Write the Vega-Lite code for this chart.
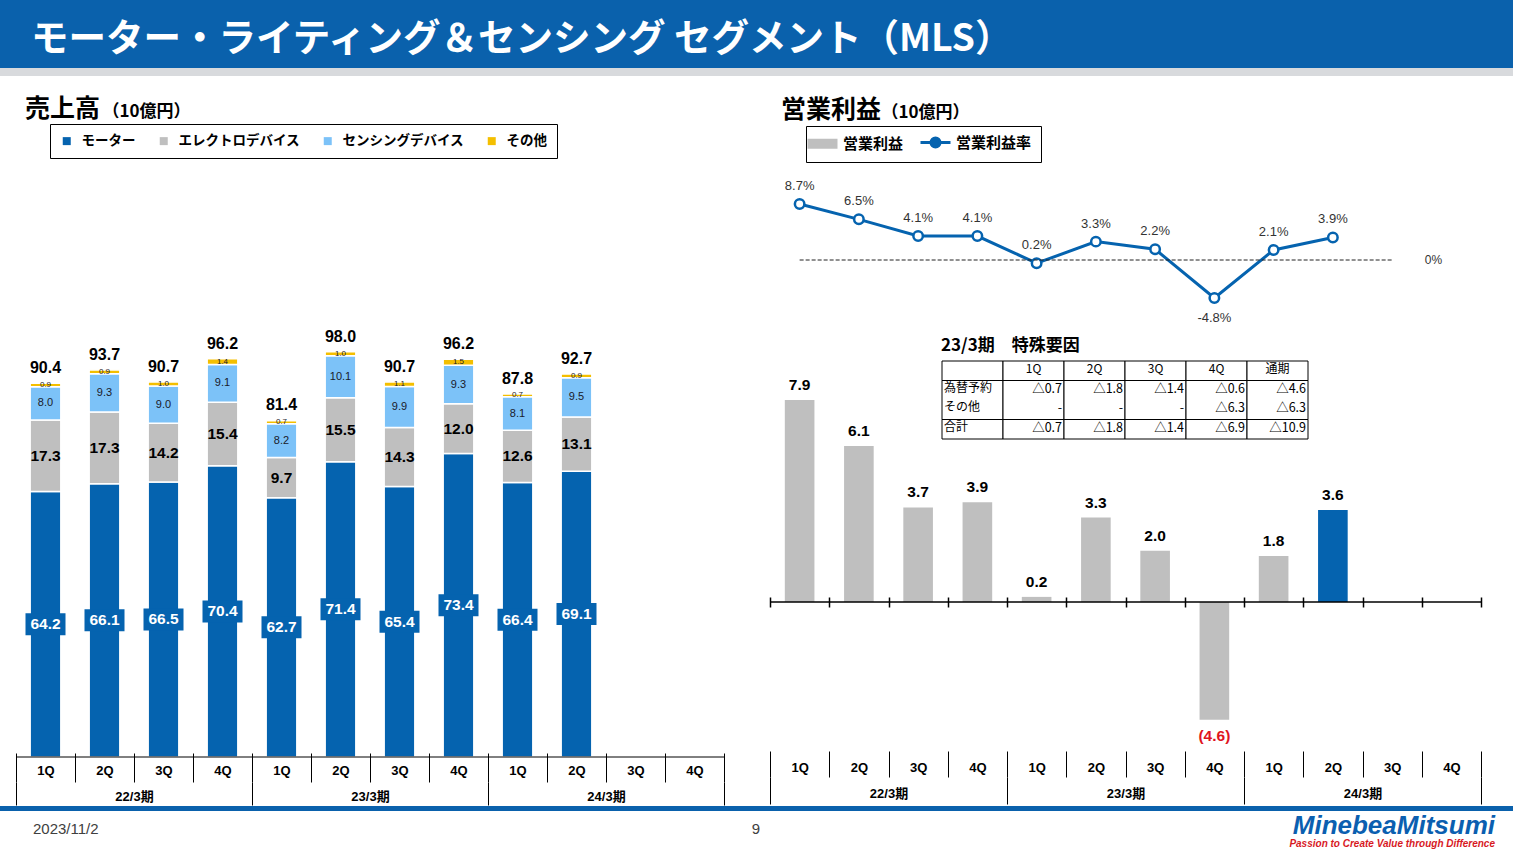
{
  "$schema": "https://vega.github.io/schema/vega-lite/v6.json",
  "padding": 0,
  "background": "white",
  "spacing": 0,
  "resolve": {"scale": {"color": "independent"}, "legend": {"color": "independent"}},
  "config": {
    "view": {"stroke": null},
    "axis": {"grid": false},
    "font": "Liberation Sans, Noto Sans CJK JP",
    "locale": {"number": {"decimal": ".", "thousands": ",", "grouping": [3], "currency": ["$", ""], "minus": "-"}}
  },
  "datasets": {
    "sales": [
      {"q": "22/3期 1Q", "cat": "モーター", "o": 1, "v": 64.2},
      {"q": "22/3期 1Q", "cat": "エレクトロデバイス", "o": 2, "v": 17.3},
      {"q": "22/3期 1Q", "cat": "センシングデバイス", "o": 3, "v": 8.0},
      {"q": "22/3期 1Q", "cat": "その他", "o": 4, "v": 0.9},
      {"q": "22/3期 2Q", "cat": "モーター", "o": 1, "v": 66.1},
      {"q": "22/3期 2Q", "cat": "エレクトロデバイス", "o": 2, "v": 17.3},
      {"q": "22/3期 2Q", "cat": "センシングデバイス", "o": 3, "v": 9.3},
      {"q": "22/3期 2Q", "cat": "その他", "o": 4, "v": 0.9},
      {"q": "22/3期 3Q", "cat": "モーター", "o": 1, "v": 66.5},
      {"q": "22/3期 3Q", "cat": "エレクトロデバイス", "o": 2, "v": 14.2},
      {"q": "22/3期 3Q", "cat": "センシングデバイス", "o": 3, "v": 9.0},
      {"q": "22/3期 3Q", "cat": "その他", "o": 4, "v": 1.0},
      {"q": "22/3期 4Q", "cat": "モーター", "o": 1, "v": 70.4},
      {"q": "22/3期 4Q", "cat": "エレクトロデバイス", "o": 2, "v": 15.4},
      {"q": "22/3期 4Q", "cat": "センシングデバイス", "o": 3, "v": 9.1},
      {"q": "22/3期 4Q", "cat": "その他", "o": 4, "v": 1.4},
      {"q": "23/3期 1Q", "cat": "モーター", "o": 1, "v": 62.7},
      {"q": "23/3期 1Q", "cat": "エレクトロデバイス", "o": 2, "v": 9.7},
      {"q": "23/3期 1Q", "cat": "センシングデバイス", "o": 3, "v": 8.2},
      {"q": "23/3期 1Q", "cat": "その他", "o": 4, "v": 0.7},
      {"q": "23/3期 2Q", "cat": "モーター", "o": 1, "v": 71.4},
      {"q": "23/3期 2Q", "cat": "エレクトロデバイス", "o": 2, "v": 15.5},
      {"q": "23/3期 2Q", "cat": "センシングデバイス", "o": 3, "v": 10.1},
      {"q": "23/3期 2Q", "cat": "その他", "o": 4, "v": 1.0},
      {"q": "23/3期 3Q", "cat": "モーター", "o": 1, "v": 65.4},
      {"q": "23/3期 3Q", "cat": "エレクトロデバイス", "o": 2, "v": 14.3},
      {"q": "23/3期 3Q", "cat": "センシングデバイス", "o": 3, "v": 9.9},
      {"q": "23/3期 3Q", "cat": "その他", "o": 4, "v": 1.1},
      {"q": "23/3期 4Q", "cat": "モーター", "o": 1, "v": 73.4},
      {"q": "23/3期 4Q", "cat": "エレクトロデバイス", "o": 2, "v": 12.0},
      {"q": "23/3期 4Q", "cat": "センシングデバイス", "o": 3, "v": 9.3},
      {"q": "23/3期 4Q", "cat": "その他", "o": 4, "v": 1.5},
      {"q": "24/3期 1Q", "cat": "モーター", "o": 1, "v": 66.4},
      {"q": "24/3期 1Q", "cat": "エレクトロデバイス", "o": 2, "v": 12.6},
      {"q": "24/3期 1Q", "cat": "センシングデバイス", "o": 3, "v": 8.1},
      {"q": "24/3期 1Q", "cat": "その他", "o": 4, "v": 0.7},
      {"q": "24/3期 2Q", "cat": "モーター", "o": 1, "v": 69.1},
      {"q": "24/3期 2Q", "cat": "エレクトロデバイス", "o": 2, "v": 13.1},
      {"q": "24/3期 2Q", "cat": "センシングデバイス", "o": 3, "v": 9.5},
      {"q": "24/3期 2Q", "cat": "その他", "o": 4, "v": 0.9}
    ],
    "totals": [
      {"q": "22/3期 1Q", "total": 90.4},
      {"q": "22/3期 2Q", "total": 93.7},
      {"q": "22/3期 3Q", "total": 90.7},
      {"q": "22/3期 4Q", "total": 96.2},
      {"q": "23/3期 1Q", "total": 81.4},
      {"q": "23/3期 2Q", "total": 98.0},
      {"q": "23/3期 3Q", "total": 90.7},
      {"q": "23/3期 4Q", "total": 96.2},
      {"q": "24/3期 1Q", "total": 87.8},
      {"q": "24/3期 2Q", "total": 92.7}
    ],
    "op": [
      {"q": "22/3期 1Q", "series": "営業利益", "v": 7.9},
      {"q": "22/3期 2Q", "series": "営業利益", "v": 6.1},
      {"q": "22/3期 3Q", "series": "営業利益", "v": 3.7},
      {"q": "22/3期 4Q", "series": "営業利益", "v": 3.9},
      {"q": "23/3期 1Q", "series": "営業利益", "v": 0.2},
      {"q": "23/3期 2Q", "series": "営業利益", "v": 3.3},
      {"q": "23/3期 3Q", "series": "営業利益", "v": 2.0},
      {"q": "23/3期 4Q", "series": "営業利益", "v": -4.6},
      {"q": "24/3期 1Q", "series": "営業利益", "v": 1.8},
      {"q": "24/3期 2Q", "series": "営業利益", "v": 3.6}
    ],
    "margin": [
      {"q": "22/3期 1Q", "series": "営業利益率", "v": 0.087},
      {"q": "22/3期 2Q", "series": "営業利益率", "v": 0.065},
      {"q": "22/3期 3Q", "series": "営業利益率", "v": 0.041},
      {"q": "22/3期 4Q", "series": "営業利益率", "v": 0.041},
      {"q": "23/3期 1Q", "series": "営業利益率", "v": 0.002},
      {"q": "23/3期 2Q", "series": "営業利益率", "v": 0.033},
      {"q": "23/3期 3Q", "series": "営業利益率", "v": 0.022},
      {"q": "23/3期 4Q", "series": "営業利益率", "v": -0.048},
      {"q": "24/3期 1Q", "series": "営業利益率", "v": 0.021},
      {"q": "24/3期 2Q", "series": "営業利益率", "v": 0.039}
    ],
    "periods": [{"p": "22/3期"}, {"p": "23/3期"}, {"p": "24/3期"}],
    "cells": [
      {"col": "項目", "r0": 0, "r1": 1}, {"col": "項目", "r0": 1, "r1": 3}, {"col": "項目", "r0": 3, "r1": 4},
      {"col": "1Q", "r0": 0, "r1": 1}, {"col": "1Q", "r0": 1, "r1": 3}, {"col": "1Q", "r0": 3, "r1": 4},
      {"col": "2Q", "r0": 0, "r1": 1}, {"col": "2Q", "r0": 1, "r1": 3}, {"col": "2Q", "r0": 3, "r1": 4},
      {"col": "3Q", "r0": 0, "r1": 1}, {"col": "3Q", "r0": 1, "r1": 3}, {"col": "3Q", "r0": 3, "r1": 4},
      {"col": "4Q", "r0": 0, "r1": 1}, {"col": "4Q", "r0": 1, "r1": 3}, {"col": "4Q", "r0": 3, "r1": 4},
      {"col": "通期", "r0": 0, "r1": 1}, {"col": "通期", "r0": 1, "r1": 3}, {"col": "通期", "r0": 3, "r1": 4}
    ],
    "tbl": [
      {"col": "1Q", "r": 0, "k": "h", "t": "1Q"},
      {"col": "2Q", "r": 0, "k": "h", "t": "2Q"},
      {"col": "3Q", "r": 0, "k": "h", "t": "3Q"},
      {"col": "4Q", "r": 0, "k": "h", "t": "4Q"},
      {"col": "通期", "r": 0, "k": "h", "t": "通期"},
      {"col": "項目", "r": 1, "k": "l", "t": "為替予約"},
      {"col": "項目", "r": 2, "k": "l", "t": "その他"},
      {"col": "項目", "r": 3, "k": "l", "t": "合計"},
      {"col": "1Q", "r": 1, "k": "v", "t": "△0.7"},
      {"col": "2Q", "r": 1, "k": "v", "t": "△1.8"},
      {"col": "3Q", "r": 1, "k": "v", "t": "△1.4"},
      {"col": "4Q", "r": 1, "k": "v", "t": "△0.6"},
      {"col": "通期", "r": 1, "k": "v", "t": "△4.6"},
      {"col": "1Q", "r": 2, "k": "v", "t": "-"},
      {"col": "2Q", "r": 2, "k": "v", "t": "-"},
      {"col": "3Q", "r": 2, "k": "v", "t": "-"},
      {"col": "4Q", "r": 2, "k": "v", "t": "△6.3"},
      {"col": "通期", "r": 2, "k": "v", "t": "△6.3"},
      {"col": "1Q", "r": 3, "k": "v", "t": "△0.7"},
      {"col": "2Q", "r": 3, "k": "v", "t": "△1.8"},
      {"col": "3Q", "r": 3, "k": "v", "t": "△1.4"},
      {"col": "4Q", "r": 3, "k": "v", "t": "△6.9"},
      {"col": "通期", "r": 3, "k": "v", "t": "△10.9"}
    ]
  },
  "vconcat": [
    {
      "width": 1513, "height": 68,
      "view": {"fill": "#0A61AC", "stroke": null},
      "title": {"text": "モーター・ライティング＆センシング セグメント（MLS）", "anchor": "start", "frame": "group", "orient": "top", "offset": -58, "dx": 31, "fontSize": 37.5, "fontWeight": "bold", "font": "Noto Sans CJK JP", "color": "white"},
      "data": {"values": []},
      "mark": "point"
    },
    {
      "width": 1513, "height": 8,
      "view": {"fill": "#D8DADD", "stroke": null},
      "data": {"values": []},
      "mark": "point"
    },
    {
      "width": 1513, "height": 21,
      "data": {"values": []},
      "mark": "point"
    },
    {
      "spacing": 0,
      "resolve": {"scale": {"color": "independent"}, "legend": {"color": "independent"}},
      "hconcat": [
        {"width": 15, "height": 1, "data": {"values": []}, "mark": "point"},
        {
          "width": 708, "height": 586,
          "title": {"text": "売上高", "anchor": "start", "frame": "group", "dx": 9, "offset": -20, "fontSize": 25, "fontWeight": "bold", "font": "Noto Sans CJK JP", "color": "black"},
          "resolve": {"scale": {"x": "independent"}, "axis": {"x": "independent"}},
          "layer": [
            {
              "layer": [
                {
                  "data": {"name": "sales"},
                  "mark": {"type": "bar", "width": {"band": 0.52}, "stroke": "white", "strokeWidth": 1.5},
                  "encoding": {
                    "x": {"field": "q", "type": "ordinal",
                      "scale": {"domain": ["22/3期 1Q","22/3期 2Q","22/3期 3Q","22/3期 4Q","23/3期 1Q","23/3期 2Q","23/3期 3Q","23/3期 4Q","24/3期 1Q","24/3期 2Q","24/3期 3Q","24/3期 4Q"], "paddingInner": 0, "paddingOuter": 0},
                      "axis": {"orient": "bottom", "title": null, "domain": false, "offset": -4, "tickBand": "extent", "tickSize": 29, "tickColor": "black", "tickWidth": 1, "labelExpr": "slice(datum.label, -2)", "labelPadding": -17.5, "labelFontSize": 13, "labelFontWeight": "bold", "labelColor": "black", "labelAngle": 0, "labelFont": "Liberation Sans"}},
                    "y": {"field": "v", "type": "quantitative", "stack": "zero",
                      "scale": {"domain": [0, 141.7], "nice": false, "zero": false},
                      "axis": {"title": "（10億円）", "titleAngle": 0, "titleX": 86, "titleY": -60, "titleAlign": "left", "titleBaseline": "middle", "titleFontSize": 17, "titleFontWeight": "bold", "titleFont": "Noto Sans CJK JP", "titleColor": "black", "labels": false, "ticks": false, "domain": false, "grid": false}},
                    "color": {"field": "cat", "type": "nominal",
                      "scale": {"domain": ["モーター", "エレクトロデバイス", "センシングデバイス", "その他"], "range": ["#0563AF", "#BFBFBF", "#7CC2F8", "#F4BF00"]},
                      "legend": {"orient": "none", "legendX": 34, "legendY": -47, "direction": "horizontal", "title": null, "symbolType": "square", "symbolSize": 64, "symbolStrokeWidth": 0, "labelFontSize": 13.5, "labelFontWeight": "bold", "labelFont": "Noto Sans CJK JP", "labelColor": "black", "columnPadding": 21, "padding": 10, "strokeColor": "black", "labelOffset": 8}},
                    "order": {"field": "o", "type": "quantitative"}
                  }
                },
                {
                  "data": {"name": "sales"},
                  "mark": {"type": "point", "shape": "M-1,-0.55H1V0.55H-1Z", "size": 1600, "filled": true, "fill": "#0563AF", "strokeWidth": 0},
                  "encoding": {
                    "x": {"field": "q", "type": "ordinal"},
                    "y": {"field": "v", "type": "quantitative", "stack": "zero", "bandPosition": 0.5},
                    "detail": {"field": "cat"},
                    "order": {"field": "o", "type": "quantitative"},
                    "opacity": {"condition": {"test": "datum.cat === 'モーター'", "value": 1}, "value": 0}
                  }
                },
                {
                  "data": {"name": "sales"},
                  "mark": {"type": "text", "fontWeight": "bold", "font": "Liberation Sans", "fontSize": 15.5, "baseline": "middle"},
                  "encoding": {
                    "x": {"field": "q", "type": "ordinal"},
                    "y": {"field": "v", "type": "quantitative", "stack": "zero", "bandPosition": 0.5},
                    "detail": {"field": "cat"},
                    "order": {"field": "o", "type": "quantitative"},
                    "text": {"field": "v", "type": "quantitative", "format": ".1f"},
                    "color": {"condition": {"test": "datum.cat === 'モーター'", "value": "white"}, "value": "black"},
                    "opacity": {"condition": {"test": "datum.cat === 'モーター' || datum.cat === 'エレクトロデバイス'", "value": 1}, "value": 0}
                  }
                },
                {
                  "data": {"name": "sales"},
                  "mark": {"type": "text", "font": "Liberation Sans", "baseline": "middle", "color": "#1A1A2A"},
                  "encoding": {
                    "x": {"field": "q", "type": "ordinal"},
                    "y": {"field": "v", "type": "quantitative", "stack": "zero", "bandPosition": 0.5},
                    "detail": {"field": "cat"},
                    "order": {"field": "o", "type": "quantitative"},
                    "text": {"field": "v", "type": "quantitative", "format": ".1f"},
                    "size": {"condition": {"test": "datum.cat === 'その他'", "value": 8}, "value": 11},
                    "opacity": {"condition": {"test": "datum.cat === 'センシングデバイス' || datum.cat === 'その他'", "value": 1}, "value": 0}
                  }
                },
                {
                  "data": {"name": "totals"},
                  "mark": {"type": "text", "fontWeight": "bold", "font": "Liberation Sans", "fontSize": 16, "baseline": "bottom", "dy": -7, "color": "black"},
                  "encoding": {
                    "x": {"field": "q", "type": "ordinal"},
                    "y": {"field": "total", "type": "quantitative"},
                    "text": {"field": "total", "type": "quantitative", "format": ".1f"}
                  }
                },
                {
                  "data": {"values": [{}]},
                  "mark": {"type": "rule", "color": "black", "strokeWidth": 1},
                  "encoding": {"y": {"datum": 0}}
                }
              ]
            },
            {
              "data": {"name": "periods"},
              "mark": {"type": "text", "text": ""},
              "encoding": {
                "x": {"field": "p", "type": "ordinal", "scale": {"paddingInner": 0, "paddingOuter": 0},
                  "axis": {"orient": "bottom", "title": null, "domain": false, "offset": 25, "tickBand": "extent", "tickSize": 23, "tickColor": "black", "labelPadding": -14.5, "labelFontSize": 13, "labelFontWeight": "bold", "labelColor": "black", "labelAngle": 0}}
              }
            }
          ]
        },
        {"width": 44, "height": 1, "data": {"values": []}, "mark": "point"},
        {
          "width": 711, "height": 580,
          "title": {"text": "営業利益", "anchor": "start", "frame": "group", "dx": 11, "offset": -20, "fontSize": 25, "fontWeight": "bold", "font": "Noto Sans CJK JP", "color": "black"},
          "resolve": {"scale": {"x": "independent", "y": "independent"}, "axis": {"x": "independent", "y": "independent"}},
          "layer": [
            {
              "layer": [
                {
                  "data": {"name": "op"},
                  "mark": {"type": "bar", "width": {"band": 0.5}},
                  "encoding": {
                    "x": {"field": "q", "type": "ordinal",
                      "scale": {"domain": ["22/3期 1Q","22/3期 2Q","22/3期 3Q","22/3期 4Q","23/3期 1Q","23/3期 2Q","23/3期 3Q","23/3期 4Q","24/3期 1Q","24/3期 2Q","24/3期 3Q","24/3期 4Q"], "paddingInner": 0, "paddingOuter": 0},
                      "axis": {"orient": "bottom", "title": null, "domain": false, "tickBand": "extent", "tickSize": 26, "tickColor": "black", "tickWidth": 1, "labelExpr": "slice(datum.label, -2)", "labelPadding": -15.5, "labelFontSize": 13, "labelFontWeight": "bold", "labelColor": "black", "labelAngle": 0, "labelFont": "Liberation Sans"}},
                    "y": {"field": "v", "type": "quantitative",
                      "scale": {"domain": [-5.827, 16.856], "nice": false, "zero": false},
                      "axis": {"orient": "left", "title": "（10億円）", "titleAngle": 0, "titleX": 111, "titleY": -59, "titleAlign": "left", "titleBaseline": "middle", "titleFontSize": 17, "titleFontWeight": "bold", "titleFont": "Noto Sans CJK JP", "titleColor": "black", "labels": false, "ticks": false, "domain": false, "grid": false}},
                    "color": {"field": "series", "type": "nominal",
                      "condition": {"test": "datum.q === '24/3期 2Q'", "value": "#0563AF"},
                      "scale": {"domain": ["営業利益", "営業利益率"], "range": ["#BFBFBF", "#0563AF"]},
                      "legend": {"orient": "none", "legendX": 36, "legendY": -45, "direction": "horizontal", "title": null, "symbolSize": 400, "labelFontSize": 15, "labelFontWeight": "bold", "labelFont": "Noto Sans CJK JP", "labelColor": "black", "padding": 9, "strokeColor": "black", "labelOffset": 13, "columnPadding": 10,
                        "encode": {"symbols": {"update": {
                          "shape": {"signal": "datum.value === '営業利益' ? 'M-1.5,-0.5H1.5V0.5H-1.5Z' : 'M-1.5,0H-0.45M0.45,0H1.5M-0.45,0A0.45,0.45,0,1,1,0.45,0A0.45,0.45,0,1,1,-0.45,0'"},
                          "fill": {"signal": "datum.value === '営業利益' ? '#BFBFBF' : 'white'"},
                          "stroke": {"signal": "datum.value === '営業利益' ? '#BFBFBF' : '#0563AF'"},
                          "strokeWidth": {"signal": "datum.value === '営業利益' ? 0 : 3"},
                          "opacity": {"value": 1}
                        }}}}}
                  }
                },
                {
                  "data": {"name": "op"},
                  "transform": [{"filter": "datum.v >= 0"}],
                  "mark": {"type": "text", "fontWeight": "bold", "font": "Liberation Sans", "fontSize": 15.5, "baseline": "bottom", "dy": -7, "color": "black"},
                  "encoding": {
                    "x": {"field": "q", "type": "ordinal"},
                    "y": {"field": "v", "type": "quantitative"},
                    "text": {"field": "v", "type": "quantitative", "format": ".1f"}
                  }
                },
                {
                  "data": {"name": "op"},
                  "transform": [{"filter": "datum.v < 0"}],
                  "mark": {"type": "text", "fontWeight": "bold", "font": "Liberation Sans", "fontSize": 15.5, "baseline": "top", "dy": 9, "color": "#E0141E"},
                  "encoding": {
                    "x": {"field": "q", "type": "ordinal"},
                    "y": {"field": "v", "type": "quantitative"},
                    "text": {"field": "v", "type": "quantitative", "format": "(.1f"}
                  }
                },
                {
                  "data": {"values": [{}]},
                  "mark": {"type": "rule", "color": "black", "strokeWidth": 1.5},
                  "encoding": {"y": {"datum": 0}}
                }
              ]
            },
            {
              "layer": [
                {
                  "data": {"name": "margin"},
                  "mark": {"type": "line", "strokeWidth": 3, "point": {"filled": false, "fill": "white", "size": 90, "strokeWidth": 2.5}},
                  "encoding": {
                    "x": {"field": "q", "type": "ordinal",
                      "scale": {"domain": ["22/3期 1Q","22/3期 2Q","22/3期 3Q","22/3期 4Q","23/3期 1Q","23/3期 2Q","23/3期 3Q","23/3期 4Q","24/3期 1Q","24/3期 2Q","24/3期 3Q","24/3期 4Q"], "paddingInner": 0, "paddingOuter": 0},
                      "axis": {"orient": "bottom", "title": null, "domain": false, "labels": false, "offset": -154, "tickBand": "extent", "tickSize": 10, "tickColor": "black", "tickWidth": 1.5}},
                    "y": {"field": "v", "type": "quantitative", "scale": {"domain": [-0.69885, 0.13448], "nice": false, "zero": false}, "axis": null},
                    "color": {"field": "series", "type": "nominal"}
                  }
                },
                {
                  "data": {"name": "margin"},
                  "transform": [{"filter": "datum.v >= 0"}],
                  "mark": {"type": "text", "font": "Liberation Sans", "fontSize": 13, "baseline": "bottom", "dy": -11, "color": "#333333"},
                  "encoding": {
                    "x": {"field": "q", "type": "ordinal"},
                    "y": {"field": "v", "type": "quantitative"},
                    "text": {"field": "v", "type": "quantitative", "format": ".1%"}
                  }
                },
                {
                  "data": {"name": "margin"},
                  "transform": [{"filter": "datum.v < 0"}],
                  "mark": {"type": "text", "font": "Liberation Sans", "fontSize": 13, "baseline": "top", "dy": 14, "color": "#333333"},
                  "encoding": {
                    "x": {"field": "q", "type": "ordinal"},
                    "y": {"field": "v", "type": "quantitative"},
                    "text": {"field": "v", "type": "quantitative", "format": ".1%"}
                  }
                },
                {
                  "data": {"values": [{}]},
                  "mark": {"type": "rule", "color": "#222222", "strokeWidth": 1, "strokeDash": [4, 2]},
                  "encoding": {"x": {"datum": "22/3期 1Q"}, "x2": {"datum": "24/3期 3Q"}, "y": {"datum": 0.0066}}
                },
                {
                  "data": {"values": [{"t": "0%"}]},
                  "mark": {"type": "text", "font": "Liberation Sans", "fontSize": 12, "baseline": "middle", "dx": -18, "color": "#333333"},
                  "encoding": {"x": {"datum": "24/3期 4Q"}, "y": {"datum": 0.0066}, "text": {"field": "t"}}
                }
              ]
            },
            {
              "data": {"name": "periods"},
              "mark": {"type": "text", "text": ""},
              "encoding": {
                "x": {"field": "p", "type": "ordinal", "scale": {"paddingInner": 0, "paddingOuter": 0},
                  "axis": {"orient": "bottom", "title": null, "domain": false, "offset": 26, "tickBand": "extent", "tickSize": 27, "tickColor": "black", "labelPadding": -16.5, "labelFontSize": 13, "labelFontWeight": "bold", "labelColor": "black", "labelAngle": 0}}
              }
            },
            {
              "layer": [
                {
                  "data": {"name": "cells"},
                  "mark": {"type": "rect", "fill": "white", "stroke": "black", "strokeWidth": 1},
                  "encoding": {
                    "x": {"field": "col", "type": "ordinal", "scale": {"domain": ["項目", "1Q", "2Q", "3Q", "4Q", "通期"], "range": [172, 538], "paddingInner": 0, "paddingOuter": 0}, "axis": null},
                    "y": {"field": "r0", "type": "quantitative", "scale": {"domain": [0, 4], "range": [190, 268], "nice": false, "zero": false}, "axis": null},
                    "y2": {"field": "r1"}
                  }
                },
                {
                  "data": {"name": "tbl"},
                  "transform": [{"filter": "datum.k === 'h'"}],
                  "mark": {"type": "text", "font": "Noto Sans CJK JP", "fontSize": 12, "baseline": "top", "dy": 3, "color": "black"},
                  "encoding": {
                    "x": {"field": "col", "type": "ordinal", "bandPosition": 0.5},
                    "y": {"field": "r", "type": "quantitative"},
                    "text": {"field": "t"}
                  }
                },
                {
                  "data": {"name": "tbl"},
                  "transform": [{"filter": "datum.k === 'l'"}],
                  "mark": {"type": "text", "font": "Noto Sans CJK JP", "fontSize": 12, "baseline": "top", "dy": 2, "dx": 2, "align": "left", "color": "black"},
                  "encoding": {
                    "x": {"field": "col", "type": "ordinal", "bandPosition": 0},
                    "y": {"field": "r", "type": "quantitative"},
                    "text": {"field": "t"}
                  }
                },
                {
                  "data": {"name": "tbl"},
                  "transform": [{"filter": "datum.k === 'v'"}],
                  "mark": {"type": "text", "font": "Noto Sans CJK JP", "fontSize": 12.5, "baseline": "top", "dy": 2, "dx": -2, "align": "right", "color": "black"},
                  "encoding": {
                    "x": {"field": "col", "type": "ordinal", "bandPosition": 1},
                    "y": {"field": "r", "type": "quantitative"},
                    "text": {"field": "t"}
                  }
                },
                {
                  "data": {"values": [{"t": "23/3期　特殊要因", "col": "項目", "r": 0}]},
                  "mark": {"type": "text", "font": "Noto Sans CJK JP", "fontSize": 17, "fontWeight": "bold", "baseline": "bottom", "dy": -6, "dx": -1, "align": "left", "color": "black"},
                  "encoding": {
                    "x": {"field": "col", "type": "ordinal", "bandPosition": 0},
                    "y": {"field": "r", "type": "quantitative"},
                    "text": {"field": "t"}
                  }
                }
              ]
            }
          ]
        }
      ]
    },
    {
      "width": 1513, "height": 5,
      "view": {"fill": "#0A61AC", "stroke": null},
      "data": {"values": []},
      "mark": "point"
    },
    {
      "spacing": 0,
      "hconcat": [
        {
          "width": 735, "height": 40,
          "title": {"text": "2023/11/2", "anchor": "start", "frame": "group", "dx": 33, "offset": -26, "fontSize": 15, "fontWeight": "normal", "font": "Liberation Sans", "color": "#404040"},
          "data": {"values": []},
          "mark": "point"
        },
        {
          "width": 42, "height": 40,
          "title": {"text": "9", "anchor": "middle", "frame": "group", "offset": -26, "fontSize": 15, "fontWeight": "normal", "font": "Liberation Sans", "color": "#404040"},
          "data": {"values": []},
          "mark": "point"
        },
        {
          "width": 736, "height": 40,
          "title": {"text": "MinebeaMitsumi", "subtitle": "Passion to Create Value through Difference", "anchor": "end", "frame": "group", "dx": -18, "offset": -38, "fontSize": 26, "fontWeight": "bold", "fontStyle": "italic", "font": "Liberation Sans", "color": "#0B5FB0", "subtitleFontSize": 10, "subtitleFontWeight": "bold", "subtitleFontStyle": "italic", "subtitleFont": "Liberation Sans", "subtitleColor": "#D7191F", "subtitlePadding": 0},
          "data": {"values": []},
          "mark": "point"
        }
      ]
    }
  ]
}
